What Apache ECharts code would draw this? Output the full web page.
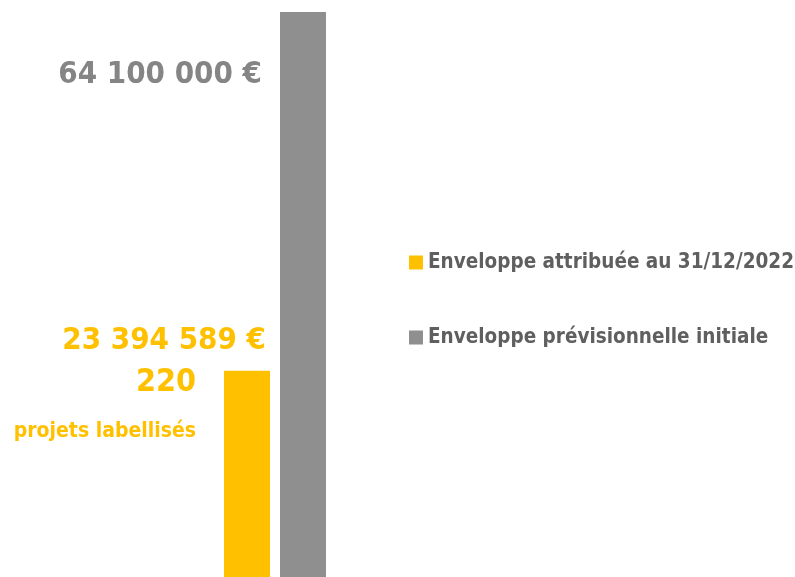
<!DOCTYPE html>
<html>
<head>
<meta charset="utf-8">
<script src="https://cdn.jsdelivr.net/npm/echarts@6/dist/echarts.min.js"></script>
<style>
  html, body { margin: 0; padding: 0; background: #fff; }
  #chart { width: 795px; height: 577px; }
</style>
</head>
<body>
<div id="chart"></div>
<script>
// Values
const categories = ['Enveloppe'];
const seriesNames = ['Enveloppe attribuée au 31/12/2022', 'Enveloppe prévisionnelle initiale'];
const attribuee = [23394589];
const initiale = [64100000];
const projetsLabellises = 220;

const FONT = '"Liberation Sans Narrow", "DejaVu Sans Condensed", sans-serif';
const YELLOW = '#FFC000';
const GREY = '#8F8F8F';

// French thousands separator: "64 100 000 €"
function euros(v) {
  return String(v).replace(/\B(?=(\d{3})+(?!\d))/g, ' ') + ' €';
}

const chart = echarts.init(document.getElementById('chart'));
chart.setOption({
  animation: false,
  textStyle: { fontFamily: FONT },
  grid: { left: 224, width: 102, top: 12, bottom: 0 },
  legend: {
    orient: 'vertical',
    left: 404,
    top: 247,
    itemWidth: 14,
    itemHeight: 14,
    itemGap: 54,
    icon: 'rect',
    textStyle: { fontFamily: FONT, fontSize: 20.5, fontWeight: 'bold', color: '#5F5F5F' },
    data: seriesNames
  },
  xAxis: { type: 'category', data: categories, show: false },
  yAxis: { type: 'value', min: 0, max: initiale[0], show: false, splitLine: { show: false } },
  series: [
    {
      name: seriesNames[0],
      type: 'bar',
      data: attribuee,
      barWidth: 46,
      barGap: '21.7%',
      itemStyle: { color: YELLOW },
      label: {
        show: true,
        position: [42, -50],
        align: 'right',
        verticalAlign: 'top',
        fontFamily: FONT,
        formatter: p => '{a|' + euros(p.value) + '}\n{b|' + projetsLabellises + '}\n{c|projets labellisés}',
        rich: {
          a: { fontFamily: FONT, fontSize: 31, fontWeight: 'bold', color: YELLOW, lineHeight: 40, align: 'right' },
          b: { fontFamily: FONT, fontSize: 32, fontWeight: 'bold', color: YELLOW, lineHeight: 44, align: 'right', padding: [0, 70, 0, 0] },
          c: { fontFamily: FONT, fontSize: 21, fontWeight: 'bold', color: YELLOW, lineHeight: 54, align: 'right', padding: [0, 70, 0, 0] }
        }
      }
    },
    {
      name: seriesNames[1],
      type: 'bar',
      data: initiale,
      barWidth: 46,
      itemStyle: { color: GREY },
      label: {
        show: true,
        position: [-18, 63],
        align: 'right',
        verticalAlign: 'middle',
        fontFamily: FONT,
        fontSize: 31,
        fontWeight: 'bold',
        color: '#858585',
        formatter: p => euros(p.value)
      }
    }
  ]
});
</script>
</body>
</html>
